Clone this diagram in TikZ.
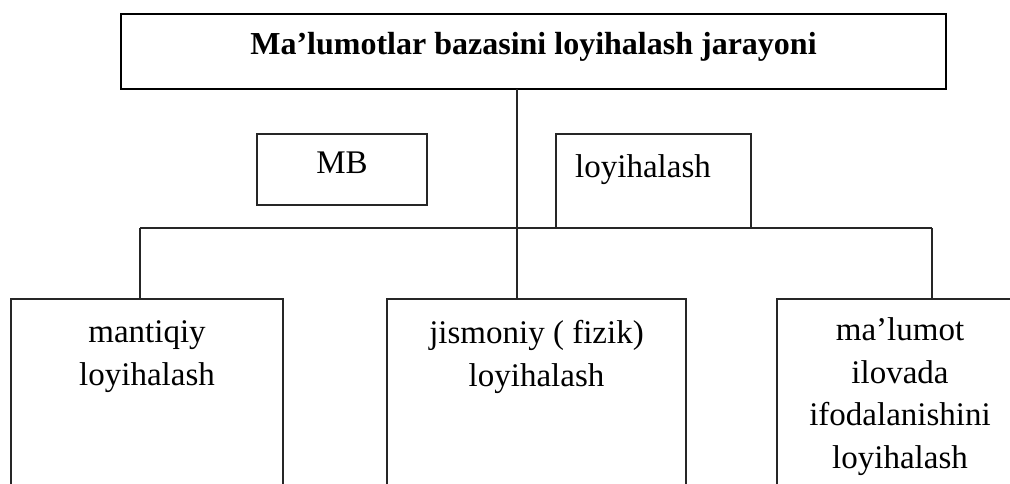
\documentclass[tikz,border=0pt]{standalone}
\usepackage{fontspec}
\setmainfont{Liberation Serif}
\begin{document}
\begin{tikzpicture}[x=1pt,y=-1pt,
  box/.style={draw=black!85, line width=1.3pt, inner sep=0pt, outer sep=0pt, anchor=north west},
  txt/.style={font=\fontsize{33}{42.5}\selectfont, inner sep=0pt, anchor=base, align=center},
  conn/.style={draw=black!85, line width=1.3pt}]
\useasboundingbox (0,0) rectangle (1010,483);
\clip (0,0) rectangle (1010,483);
% boxes
\node[box, draw=black, line width=2.2pt, minimum width=825pt, minimum height=75pt] (title) at (121,14) {};
\node[box, minimum width=170pt, minimum height=71pt] (mb) at (257,134) {};
\node[box, minimum width=195pt, minimum height=94pt] (loy) at (556,134) {};
\node[box, minimum width=272pt, minimum height=240pt] (left) at (11,299) {};
\node[box, minimum width=299pt, minimum height=240pt] (mid) at (387,299) {};
\node[box, minimum width=246pt, minimum height=240pt] (right) at (777,299) {};
% texts (base anchor = baseline of the last line)
\node[txt, font=\fontsize{32}{42.5}\selectfont\bfseries] (titletxt) at (533.5,54) {Ma’lumotlar bazasini loyihalash jarayoni};
\node[txt] (mbtxt) at (342,173) {MB};
\node[txt, anchor=base west] (loytxt) at (575,177) {loyihalash};
\node[txt] (lefttxt) at (147,385) {mantiqiy\\loyihalash};
\node[txt] (midtxt) at (536.5,386) {jismoniy ( fizik)\\loyihalash};
\node[txt] (righttxt) at (900,468) {ma’lumot\\ilovada\\ifodalanishini\\loyihalash};
% connectors
\coordinate (tx) at (517,0);
\coordinate (hl) at (140,228);
\coordinate (hr) at (932,228);
\draw[conn] (title.south -| tx) -- (mid.north -| tx);
\draw[conn] (hl) -- (hr);
\draw[conn] (hl) -- (left.north -| hl);
\draw[conn] (hr) -- (right.north -| hr);
\end{tikzpicture}
\end{document}
